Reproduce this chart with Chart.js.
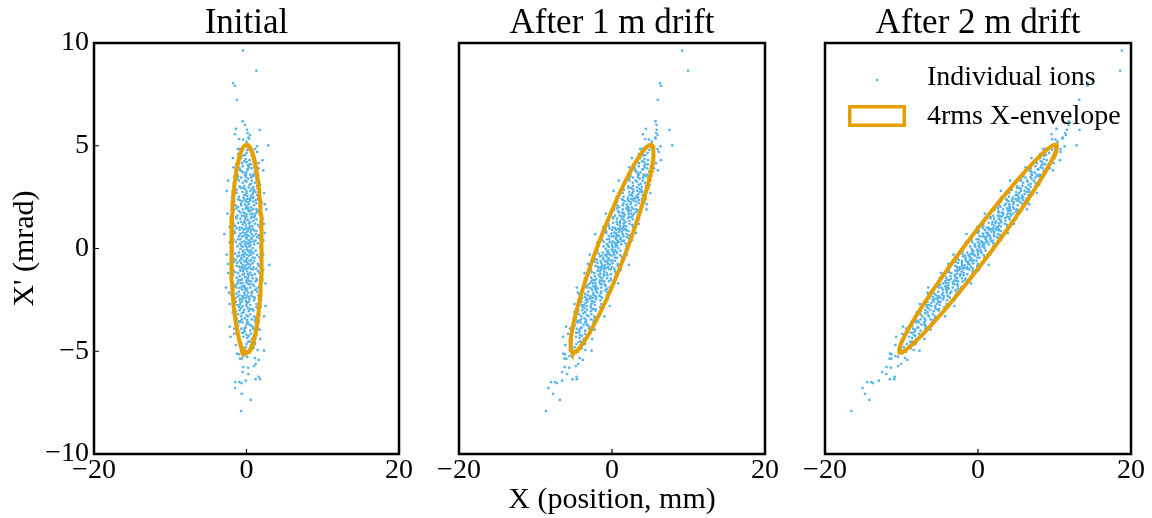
<!DOCTYPE html>
<html lang="en">
<head>
<meta charset="UTF-8">
<title>Transverse phase space drift</title>
<script src="https://cdn.jsdelivr.net/npm/chart.js"></script>
<style>
  body { margin: 0; background: #fff; }
  .panels { position: relative; width: 1152px; height: 518px; }
  .panels canvas { position: absolute; top: 0; }
</style>
</head>
<body>
<div class="panels">
  <canvas id="panel0" width="420" height="518" style="left:0px"></canvas>
  <canvas id="panel1" width="360" height="518" style="left:430px"></canvas>
  <canvas id="panel2" width="356" height="518" style="left:796px"></canvas>
</div>
<script>
const panelTitles = ['Initial', 'After 1 m drift', 'After 2 m drift'];
const driftLengths = [0, 1, 2];   // metres
const xTicks = [-20, 0, 20];
const yTicks = [-10, -5, 0, 5, 10];

// 4rms envelope of the initial (upright) beam: half widths in mm and mrad
const envelopeHalfX = 2.0;
const envelopeHalfXp = 5.05;

// initial ion coordinates [x (mm), x' (mrad)]
const initialIons = [
  [-0.46,9.63],[1.29,8.65],[-1.77,8.05],[-1.51,7.92],[-1.25,7.24],[-0.5,6.19],[-0.2,6.02],[-1.38,5.82],
  [0.07,5.78],[1.73,5.77],[0.15,5.62],[0.45,5.52],[0.25,5.4],[0.35,5.35],[-1.51,5.56],[-0.98,5.33],
  [-0.46,5.3],[2.86,5.02],[-1.15,4.84],[1.38,4.97],[1.11,4.84],[0.0,5.2],
  [0.3,4.9],[-0.6,4.7],[0.8,4.6],[-0.2,4.55],[0.1,4.8],[1.0,4.5],[-1.1,4.6],[0.5,4.95],[-0.4,4.52],[1.4,4.7],[-0.9,4.85],[0.0,4.65],
  [-0.7,4.4],[0.4,4.3],[1.2,4.2],[-1.3,4.1],[0.2,4.05],[-0.3,4.25],[0.9,4.45],[-0.1,4.35],[1.6,4.15],[-1.0,4.3],[0.6,4.1],[-0.5,4.0],[0.0,4.2],[2.1,4.3],[-1.8,4.4],
  [0.7,3.9],[-0.8,3.8],[1.3,3.7],[-0.2,3.6],[0.3,3.95],[-1.4,3.65],[1.0,3.55],[-0.6,3.75],[0.1,3.85],[1.6,3.9],[-1.1,3.5],[0.5,3.6],[-0.4,3.7],[2.2,3.8],[0.8,3.52],[-1.7,3.95],[-0.1,3.58],
  [0.2,3.4],[-1.0,3.3],[1.1,3.2],[-0.3,3.05],[0.6,3.45],[-1.5,3.15],[1.5,3.35],[-0.7,3.45],[0.0,3.25],[0.9,3.0],[-1.2,3.4],[0.4,3.1],[-0.5,3.2],[1.8,3.1],[-2.4,3.3],[0.7,3.3],[-0.1,3.48],[1.3,3.42],[-0.9,3.02],
  [-0.2,2.9],[0.5,2.8],[-1.3,2.7],[1.4,2.6],[0.1,2.55],[-0.8,2.95],[1.0,2.85],[-1.7,2.6],[0.8,2.65],[-0.5,2.75],[1.7,2.9],[-1.0,2.52],[0.3,2.98],[2.3,2.7],[-0.1,2.62],[0.6,2.58],[-1.5,2.88],[1.2,2.75],[-2.6,2.8],[0.0,2.8],[0.9,2.5],
  [0.4,2.4],[-0.6,2.3],[1.3,2.2],[-1.4,2.1],[0.0,2.05],[0.8,2.45],[-0.9,2.35],[1.7,2.3],[-0.2,2.15],[0.6,2.0],[-1.8,2.4],[1.0,2.1],[-0.4,2.48],[0.2,2.25],[2.4,2.15],[-1.1,2.02],[1.5,2.42],[-0.7,2.18],[0.5,2.32],[-1.6,2.27],[0.1,2.4],[0.9,2.28],[-0.3,2.38],
  [-0.5,1.9],[0.3,1.8],[1.2,1.7],[-1.2,1.6],[0.7,1.55],[-0.1,1.95],[1.6,1.85],[-0.8,1.75],[0.0,1.65],[1.0,1.52],[-1.6,1.88],[0.5,1.68],[-0.3,1.58],[1.9,1.62],[-1.0,1.82],[0.2,1.98],[-2.5,1.7],[0.9,1.92],[-0.6,1.6],[1.4,1.78],[-0.2,1.72],[0.6,1.85],[-1.4,1.53],[2.6,1.9],
  [0.1,1.4],[-0.7,1.3],[1.1,1.2],[-1.5,1.1],[0.4,1.05],[-0.2,1.45],[0.9,1.35],[-1.1,1.25],[1.5,1.15],[0.0,1.0],[-0.5,1.18],[0.6,1.48],[-1.8,1.38],[1.8,1.3],[-0.9,1.02],[0.3,1.22],[-0.3,1.32],[1.3,1.42],[-1.3,1.46],[0.8,1.08],[-0.1,1.12],[0.5,1.28],[2.3,1.2],[-2.2,1.05],[0.2,1.38],
  [-0.4,0.9],[0.5,0.8],[1.2,0.7],[-1.0,0.6],[0.0,0.55],[0.8,0.95],[-1.6,0.85],[1.6,0.65],[-0.2,0.75],[0.3,0.62],[-0.8,0.72],[1.0,0.88],[-1.3,0.98],[0.6,0.52],[-0.6,0.58],[1.9,0.92],[0.1,0.82],[-0.1,0.68],[0.4,0.98],[-1.9,0.62],[1.4,0.55],[-0.5,0.78],[0.9,0.6],[-2.9,0.7],[0.2,0.9],
  [0.3,0.4],[-0.6,0.3],[1.0,0.2],[-1.2,0.1],[0.1,0.05],[0.7,0.45],[-0.3,0.35],[1.5,0.25],[-1.7,0.42],[0.5,0.15],[-0.9,0.22],[0.0,0.48],[1.2,0.38],[-0.1,0.12],[0.8,0.02],[-1.4,0.32],[0.4,0.28],[-0.5,0.08],[1.8,0.1],[-2.0,0.18],[0.2,0.22],[-0.8,0.44],[2.2,0.4],[0.6,0.32],[-0.2,0.2],
  [-0.3,-0.4],[0.6,-0.3],[-1.0,-0.2],[1.2,-0.1],[0.0,-0.05],[-0.7,-0.45],[0.3,-0.35],[-1.5,-0.25],[1.7,-0.42],[-0.5,-0.15],[0.9,-0.22],[0.1,-0.48],[-1.2,-0.38],[0.2,-0.12],[-0.8,-0.02],[1.4,-0.32],[-0.4,-0.28],[0.5,-0.08],[-1.8,-0.1],[2.0,-0.18],[-0.2,-0.22],[0.8,-0.44],[-2.6,-0.3],[-0.6,-0.32],[0.4,-0.2],
  [0.4,-0.9],[-0.5,-0.8],[-1.2,-0.7],[1.0,-0.6],[0.0,-0.55],[-0.8,-0.95],[1.6,-0.85],[-1.6,-0.65],[0.2,-0.75],[-0.3,-0.62],[0.8,-0.72],[-1.0,-0.88],[1.3,-0.98],[-0.6,-0.52],[0.6,-0.58],[-1.9,-0.92],[-0.1,-0.82],[0.1,-0.68],[-0.4,-0.98],[1.9,-0.62],[-1.4,-0.55],[0.5,-0.78],[-0.9,-0.6],[3.0,-0.8],[-0.2,-0.9],
  [-0.1,-1.4],[0.7,-1.3],[-1.1,-1.2],[1.5,-1.1],[-0.4,-1.05],[0.2,-1.45],[-0.9,-1.35],[1.1,-1.25],[-1.5,-1.15],[0.0,-1.0],[0.5,-1.18],[-0.6,-1.48],[1.8,-1.38],[-1.8,-1.3],[0.9,-1.02],[-0.3,-1.22],[0.3,-1.32],[-1.3,-1.42],[1.3,-1.46],[-0.8,-1.08],[0.1,-1.12],[-0.5,-1.28],[-2.4,-1.2],[2.2,-1.05],[-0.2,-1.38],
  [0.5,-1.9],[-0.3,-1.8],[-1.2,-1.7],[1.2,-1.6],[-0.7,-1.55],[0.1,-1.95],[-1.6,-1.85],[0.8,-1.75],[0.0,-1.65],[-1.0,-1.52],[1.6,-1.88],[-0.5,-1.68],[0.3,-1.58],[-1.9,-1.62],[1.0,-1.82],[-0.2,-1.98],[2.5,-1.7],[-0.9,-1.92],[0.6,-1.6],[-1.4,-1.78],[0.2,-1.72],[-0.6,-1.85],[1.4,-1.53],[-2.7,-1.9],
  [-0.4,-2.4],[0.6,-2.3],[-1.3,-2.2],[1.4,-2.1],[0.0,-2.05],[-0.8,-2.45],[0.9,-2.35],[-1.7,-2.3],[0.2,-2.15],[-0.6,-2.0],[1.8,-2.4],[-1.0,-2.1],[0.4,-2.48],[-0.2,-2.25],[-2.3,-2.15],[1.1,-2.02],[-1.5,-2.42],[0.7,-2.18],[-0.5,-2.32],[1.6,-2.27],[-0.1,-2.4],[-0.9,-2.28],[0.3,-2.38],
  [0.2,-2.9],[-0.5,-2.8],[1.3,-2.7],[-1.4,-2.6],[-0.1,-2.55],[0.8,-2.95],[-1.0,-2.85],[1.7,-2.6],[-0.8,-2.65],[0.5,-2.75],[-1.7,-2.9],[1.0,-2.52],[-0.3,-2.98],[-2.2,-2.7],[0.1,-2.62],[-0.6,-2.58],[1.5,-2.88],[-1.2,-2.75],[2.5,-2.8],[0.0,-2.8],[-0.9,-2.5],
  [-0.2,-3.4],[1.0,-3.3],[-1.1,-3.2],[0.3,-3.05],[-0.6,-3.45],[1.5,-3.15],[-1.5,-3.35],[0.7,-3.45],[0.0,-3.25],[-0.9,-3.0],[1.2,-3.4],[-0.4,-3.1],[0.5,-3.2],[-1.8,-3.1],[2.3,-3.3],[-0.7,-3.3],[0.1,-3.48],[-1.3,-3.42],[0.9,-3.02],
  [-0.7,-3.9],[0.8,-3.8],[-1.3,-3.7],[0.2,-3.6],[-0.3,-3.95],[1.4,-3.65],[-1.0,-3.55],[0.6,-3.75],[-0.1,-3.85],[-1.6,-3.9],[1.1,-3.5],[-0.5,-3.6],[0.4,-3.7],[-2.2,-3.8],[-0.8,-3.52],[1.7,-3.95],[0.1,-3.58],
  [0.7,-4.4],[-0.4,-4.3],[-1.2,-4.2],[1.3,-4.1],[-0.2,-4.05],[0.3,-4.25],[-0.9,-4.45],[0.1,-4.35],[-1.6,-4.15],[1.0,-4.3],[-0.6,-4.1],[0.5,-4.0],[0.0,-4.2],[-2.1,-4.3],[1.8,-4.4],
  [-0.3,-4.9],[0.6,-4.7],[-0.8,-4.6],[0.2,-4.55],[-0.1,-4.8],[-1.0,-4.5],[1.1,-4.6],[-0.5,-4.95],[0.4,-4.52],[-1.4,-4.7],[0.9,-4.85],[0.0,-4.65],[1.1,-4.65],
  [2.3,-4.97],[1.47,-4.94],[-1.25,-5.12],[-1.0,-5.15],[-0.33,-5.23],[0.1,-5.28],[1.11,-5.33],[1.6,-5.42],[-0.85,-5.36],[-0.6,-5.36],
  [-0.42,-5.77],[0.2,-5.8],[1.0,-5.72],[1.2,-5.62],[-0.5,-6.01],[0.24,-6.11],[1.6,-6.24],[1.2,-6.36],[1.77,-6.36],[-0.1,-6.43],
  [-1.47,-6.5],[-0.95,-6.5],[-0.65,-6.55],[-1.51,-6.79],[-0.63,-7.07],[0.55,-7.37],[-0.72,-7.91],
  // denser core
  [0.4,4.1],[-0.9,3.9],[1.1,3.75],[-0.2,3.3],[0.6,3.15],[-1.2,3.6],[0.0,3.7],[1.4,3.05],[-0.6,4.15],[0.9,3.6],[-1.6,3.25],[0.2,3.85],
  [-0.3,2.6],[0.7,2.9],[-1.1,2.4],[1.2,2.35],[0.0,2.7],[-0.7,2.1],[1.6,2.55],[0.3,2.15],[-1.9,2.5],[0.9,2.75],[-0.5,2.95],[0.5,2.45],[-1.3,2.85],[2.0,2.25],[-0.1,2.3],
  [0.2,1.9],[-0.8,1.45],[1.1,1.6],[-1.3,1.95],[0.5,1.1],[-0.4,1.75],[1.7,1.05],[-1.7,1.2],[0.0,1.55],[0.8,1.7],[-0.6,1.0],[1.3,1.9],[-2.0,1.5],[0.4,1.85],[-0.2,1.25],[2.1,1.45],
  [-0.2,0.95],[0.7,0.7],[-1.1,0.45],[1.3,0.85],[0.0,0.3],[-0.7,0.15],[1.7,0.5],[-1.5,0.75],[0.4,0.1],[-0.4,0.6],[1.0,0.35],[-2.2,0.3],[0.6,0.9],[-0.9,0.9],[2.4,0.75],[0.1,0.65],
  [0.2,-0.95],[-0.7,-0.7],[1.1,-0.45],[-1.3,-0.85],[0.0,-0.3],[0.7,-0.15],[-1.7,-0.5],[1.5,-0.75],[-0.4,-0.1],[0.4,-0.6],[-1.0,-0.35],[2.2,-0.3],[-0.6,-0.9],[0.9,-0.9],[-2.4,-0.75],[-0.1,-0.65],
  [-0.2,-1.9],[0.8,-1.45],[-1.1,-1.6],[1.3,-1.95],[-0.5,-1.1],[0.4,-1.75],[-1.7,-1.05],[1.7,-1.2],[0.0,-1.55],[-0.8,-1.7],[0.6,-1.0],[-1.3,-1.9],[2.0,-1.5],[-0.4,-1.85],[0.2,-1.25],[-2.1,-1.45],
  [0.3,-2.6],[-0.7,-2.9],[1.1,-2.4],[-1.2,-2.35],[0.0,-2.7],[0.7,-2.1],[-1.6,-2.55],[-0.3,-2.15],[1.9,-2.5],[-0.9,-2.75],[0.5,-2.95],[-0.5,-2.45],[1.3,-2.85],[-2.0,-2.25],[0.1,-2.3],
  [-0.4,-4.1],[0.9,-3.9],[-1.1,-3.75],[0.2,-3.3],[-0.6,-3.15],[1.2,-3.6],[0.0,-3.7],[-1.4,-3.05],[0.6,-4.15],[-0.9,-3.6],[1.6,-3.25],[-0.2,-3.85]
];

const serif = "'Liberation Serif', 'Times New Roman', serif";
const ionColor = '#56B4E9';
const envelopeColor = '#E69F00';

const minusSign = v => String(v).replace('-', '\u2212');

// move every ion along a field-free drift of length L
function driftIons(L) {
  return initialIons.map(([x, xp]) => ({ x: x + L * xp, y: xp }));
}

// outline of the 4rms ellipse after the same drift
function envelopeOutline(L) {
  const pts = [];
  for (let i = 0; i <= 200; i++) {
    const t = 2 * Math.PI * i / 200;
    const x = envelopeHalfX * Math.cos(t);
    const xp = envelopeHalfXp * Math.sin(t);
    pts.push({ x: x + L * xp, y: xp });
  }
  return pts;
}

// black box around the plot area with inward tick marks
const framePlugin = {
  id: 'frame',
  afterDraw(chart, args, opts) {
    const { ctx, chartArea: a, scales } = chart;
    ctx.save();
    ctx.strokeStyle = '#000';
    ctx.lineWidth = 1.2;
    ctx.beginPath();
    scales.x.ticks.forEach(t => {
      const px = scales.x.getPixelForValue(t.value);
      ctx.moveTo(px, a.bottom);
      ctx.lineTo(px, a.bottom - 5);
    });
    if (opts.leftTicks) {
      scales.y.ticks.forEach(t => {
        const py = scales.y.getPixelForValue(t.value);
        ctx.moveTo(a.left, py);
        ctx.lineTo(a.left + 5, py);
      });
    }
    ctx.stroke();
    ctx.lineWidth = 2.5;
    ctx.strokeRect(a.left, a.top, a.width, a.height);
    ctx.restore();
  }
};

// legend without frame, top right of the last panel
const ionLegendPlugin = {
  id: 'ionLegend',
  afterDraw(chart, args, opts) {
    if (!opts.show) return;
    const { ctx, chartArea: a } = chart;
    ctx.save();
    ctx.fillStyle = ionColor;
    ctx.beginPath();
    ctx.arc(a.left + 52, a.top + 37, 1.3, 0, 2 * Math.PI);
    ctx.fill();
    ctx.strokeStyle = envelopeColor;
    ctx.lineWidth = 3.5;
    ctx.strokeRect(a.left + 24.75, a.top + 63.75, 54.5, 18.5);
    ctx.fillStyle = '#000';
    ctx.font = '28px ' + serif;
    ctx.textBaseline = 'middle';
    ctx.fillText('Individual ions', a.left + 102, a.top + 35);
    ctx.fillText('4rms X-envelope', a.left + 102, a.top + 74);
    ctx.restore();
  }
};

const padLeft = [0, 29, 29];
const padRight = [21, 25, 21];

driftLengths.forEach((L, i) => {
  new Chart(document.getElementById('panel' + i), {
    type: 'scatter',
    data: {
      datasets: [
        {
          label: '4rms X-envelope',
          data: envelopeOutline(L),
          showLine: true,
          pointRadius: 0,
          borderColor: envelopeColor,
          borderWidth: 4,
          fill: false
        },
        {
          label: 'Individual ions',
          data: driftIons(L),
          pointRadius: 1.35,
          pointBorderWidth: 0,
          backgroundColor: ionColor,
          borderColor: ionColor
        }
      ]
    },
    options: {
      responsive: false,
      animation: false,
      events: [],
      layout: { padding: { left: padLeft[i], right: padRight[i], top: 0, bottom: 0 } },
      plugins: {
        legend: { display: false },
        tooltip: { enabled: false },
        title: {
          display: true,
          fullSize: false,
          text: panelTitles[i],
          color: '#000',
          font: { family: serif, size: 35, weight: 'normal', lineHeight: 1.086 },
          padding: { top: 5, bottom: 0 }
        },
        frame: { leftTicks: i === 0 },
        ionLegend: { show: i === 2 }
      },
      scales: {
        x: {
          type: 'linear',
          min: -20, max: 20,
          grid: { display: false, drawTicks: false },
          border: { display: false },
          afterBuildTicks: s => { s.ticks = xTicks.map(v => ({ value: v })); },
          afterFit: s => { s.height = 64; },
          ticks: {
            padding: 0, autoSkip: false, maxRotation: 0, color: '#000',
            font: { family: serif, size: 28 },
            callback: v => minusSign(v)
          },
          title: {
            display: i === 1,
            text: 'X (position, mm)',
            color: '#000',
            font: { family: serif, size: 30 },
            padding: { top: 0, bottom: 0 }
          }
        },
        y: {
          type: 'linear',
          min: -10, max: 10,
          display: i === 0,
          grid: { display: false, drawTicks: false },
          border: { display: false },
          afterBuildTicks: s => { s.ticks = yTicks.map(v => ({ value: v })); },
          afterFit: s => { s.width = s.options.display ? 94 : 0; },
          ticks: {
            padding: 5, autoSkip: false, color: '#000',
            font: { family: serif, size: 28 },
            callback: v => minusSign(v)
          },
          title: {
            display: true,
            text: "X' (mrad)",
            color: '#000',
            font: { family: serif, size: 30 },
            padding: { top: 7, bottom: 0 }
          }
        }
      }
    },
    plugins: [framePlugin, ionLegendPlugin]
  });
});
</script>
</body>
</html>
